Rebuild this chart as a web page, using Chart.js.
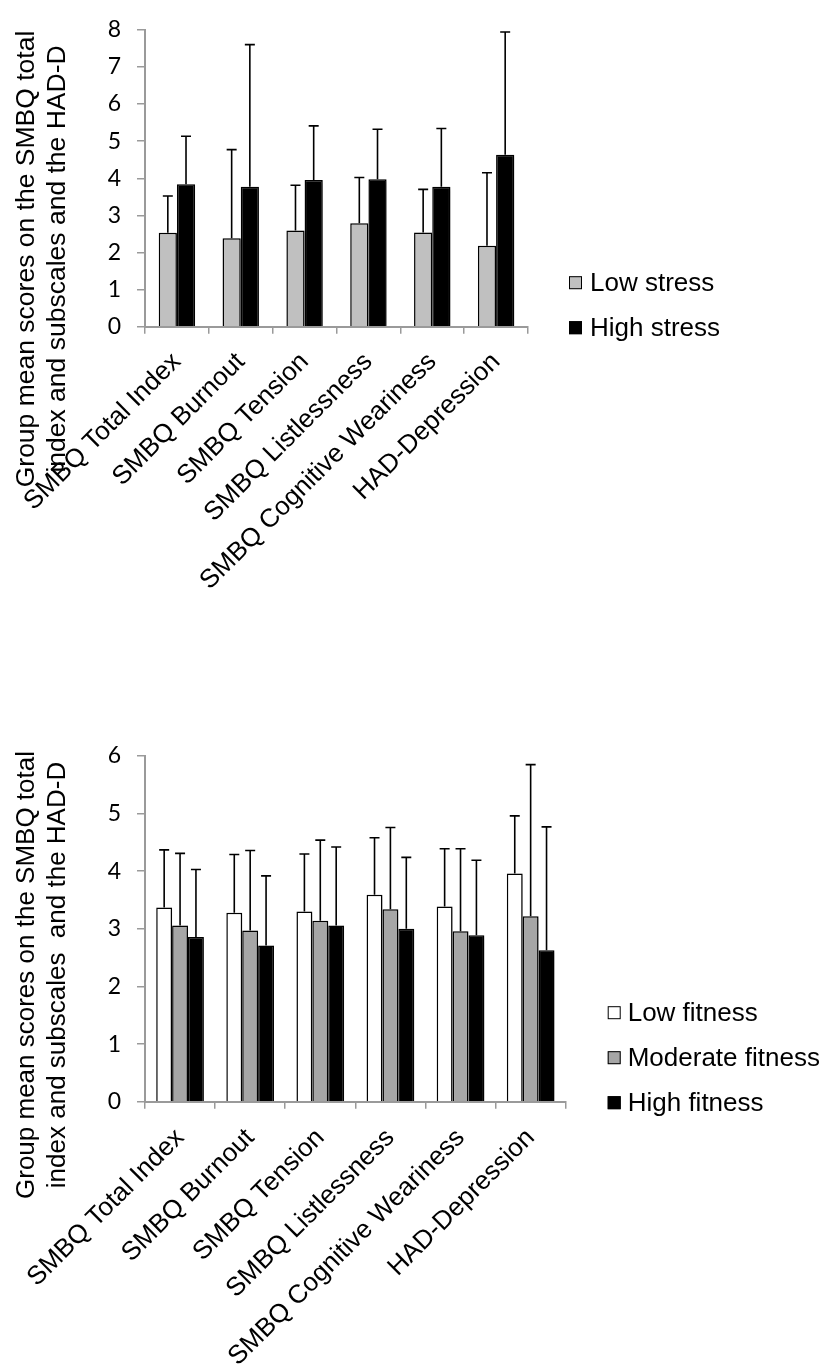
<!DOCTYPE html>
<html><head><meta charset="utf-8">
<script src="https://cdn.jsdelivr.net/npm/chart.js@4.4.0/dist/chart.umd.min.js"></script>
<style>
html,body{margin:0;padding:0;background:#fff;}
#c1{position:absolute;left:0;top:0;}
#c2{position:absolute;left:0;top:680px;}
</style></head><body>
<canvas id="c1" width="827" height="680"></canvas>
<canvas id="c2" width="827" height="685"></canvas>
<script>
// ---------- data ----------
const categories = ['SMBQ Total Index','SMBQ Burnout','SMBQ Tension','SMBQ Listlessness','SMBQ Cognitive Weariness','HAD-Depression'];
const yTitle1 = ['Group mean scores on the SMBQ total','index and subscales and the HAD-D'];
const yTitle2 = ['Group mean scores on the SMBQ total','index and subscales  and the HAD-D'];
const stressLabels = ['Low stress','High stress'];
const lowStress = [2.53,2.38,2.59,2.79,2.54,2.18];
const lowStressUpper = [3.52,4.77,3.81,4.02,3.70,4.15];
const highStress = [3.84,3.77,3.95,3.97,3.77,4.63];
const highStressUpper = [5.13,7.60,5.41,5.32,5.34,7.94];
const fitnessLabels = ['Low fitness','Moderate fitness','High fitness'];
const lowFitness = [3.37,3.28,3.30,3.59,3.39,3.96];
const lowFitnessUpper = [4.37,4.29,4.30,4.58,4.39,4.96];
const modFitness = [3.06,2.97,3.14,3.34,2.96,3.22];
const modFitnessUpper = [4.31,4.36,4.54,4.76,4.39,5.85];
const highFitness = [2.86,2.71,3.06,3.00,2.89,2.63];
const highFitnessUpper = [4.03,3.92,4.42,4.24,4.19,4.77];
const stressAxis = {min:0, max:8, step:1};
const fitnessAxis = {min:0, max:6, step:1};

// ---------- style ----------
const FONT = "'Liberation Sans', Arial, sans-serif";
const TICKFONT = "Lato, 'Liberation Sans', sans-serif";
Chart.defaults.font.family = FONT;
Chart.defaults.color = '#000';
const AXIS = '#9a9a9a';

const barShadow = {
  id:'barShadow',
  beforeDatasetDraw(chart){
    const ctx = chart.ctx;
    ctx.save();
    ctx.shadowColor = 'rgba(0,0,0,0.28)';
    ctx.shadowBlur = 4; ctx.shadowOffsetX = 2; ctx.shadowOffsetY = 1;
  },
  afterDatasetDraw(chart){ chart.ctx.restore(); }
};

const errorBars = {
  id:'errorBars',
  afterDatasetsDraw(chart){
    const ctx = chart.ctx, ys = chart.scales.y;
    ctx.save();
    ctx.strokeStyle = '#000'; ctx.lineWidth = 1.6;
    chart.data.datasets.forEach((ds,i)=>{
      const meta = chart.getDatasetMeta(i);
      meta.data.forEach((bar,j)=>{
        const yt = ys.getPixelForValue(ds.upper[j]);
        ctx.beginPath();
        ctx.moveTo(bar.x, bar.y); ctx.lineTo(bar.x, yt);
        ctx.moveTo(bar.x-5, yt); ctx.lineTo(bar.x+5, yt);
        ctx.stroke();
      });
    });
    ctx.restore();
  }
};

const sideLegend = {
  id:'sideLegend',
  afterDraw(chart, args, opts){
    const ctx = chart.ctx, ca = chart.chartArea;
    const ds = chart.data.datasets, n = ds.length;
    ctx.save();
    ctx.font = '26px ' + FONT;
    ctx.textBaseline = 'middle'; ctx.textAlign = 'left';
    ds.forEach((d,i)=>{
      const cy = ca.bottom + 1 - (n-1-i)*45;
      const bx = ca.right + opts.dx;
      ctx.fillStyle = d.backgroundColor;
      ctx.fillRect(bx, cy-6.5, 13, 13);
      ctx.strokeStyle = '#000'; ctx.lineWidth = 1;
      ctx.strokeRect(bx+0.5, cy-6, 12, 12);
      ctx.fillStyle = '#000';
      ctx.fillText(d.label, bx + opts.tx, cy+1);
    });
    ctx.restore();
  }
};

const yTitlePlugin = {
  id:'yTitle',
  afterDraw(chart, args, opts){
    const ctx = chart.ctx;
    ctx.save();
    ctx.font = opts.size + 'px ' + FONT;
    ctx.fillStyle = '#000';
    ctx.textAlign = 'center'; ctx.textBaseline = 'alphabetic';
    opts.lines.forEach((t,i)=>{
      ctx.save();
      ctx.translate(opts.xs[i], opts.cy);
      ctx.rotate(-Math.PI/2);
      ctx.fillText(t, 0, 0);
      ctx.restore();
    });
    ctx.restore();
  }
};

function makeChart(id, datasets, axis, cfg){
  return new Chart(document.getElementById(id), {
    type:'bar',
    data:{labels:categories, datasets},
    options:{
      responsive:false, animation:false,
      layout:{padding:{left:0, top:cfg.top, right:cfg.right, bottom:0}},
      datasets:{bar:{barPercentage:1, categoryPercentage:cfg.cat, borderColor:'#000', borderWidth:1.5}},
      plugins:{
        legend:{display:false}, tooltip:{enabled:false},
        sideLegend:{dx:cfg.legendDx, tx:cfg.legendTx},
        yTitle:{lines:cfg.title, xs:[34,65], cy:cfg.titleCy, size:cfg.titleSize}
      },
      scales:{
        x:{
          grid:{drawOnChartArea:false, color:AXIS, lineWidth:1.5, tickLength:7},
          border:{color:AXIS, width:2},
          ticks:{autoSkip:false, minRotation:45, maxRotation:45, padding:cfg.xpad, font:{size:26}, color:'#000'},
          afterFit(s){ s.height = cfg.xh; }
        },
        y:{
          min:axis.min, max:axis.max,
          grid:{drawOnChartArea:false, color:AXIS, lineWidth:1.5, tickLength:8},
          border:{color:AXIS, width:2},
          ticks:{stepSize:axis.step, padding:16, font:{size:23, family:TICKFONT}, color:'#000'},
          afterFit(s){ s.width = 145; }
        }
      }
    },
    plugins:[barShadow, errorBars, sideLegend, yTitlePlugin]
  });
}

makeChart('c1', [
  {label:stressLabels[0], data:lowStress, upper:lowStressUpper, backgroundColor:'#c0c0c0'},
  {label:stressLabels[1], data:highStress, upper:highStressUpper, backgroundColor:'#000000'}
], stressAxis, {top:24, right:299, cat:0.57, xh:680-326.7, xpad:13, legendDx:41, legendTx:21, title:yTitle1, titleCy:259, titleSize:26.5});

makeChart('c2', [
  {label:fitnessLabels[0], data:lowFitness, upper:lowFitnessUpper, backgroundColor:'#ffffff'},
  {label:fitnessLabels[1], data:modFitness, upper:modFitnessUpper, backgroundColor:'#a6a6a6'},
  {label:fitnessLabels[2], data:highFitness, upper:highFitnessUpper, backgroundColor:'#000000'}
], fitnessAxis, {top:76, right:261.3, cat:0.68, xh:685-421.7, xpad:14, legendDx:42, legendTx:20, title:yTitle2, titleCy:295, titleSize:26});
</script>
</body></html>
